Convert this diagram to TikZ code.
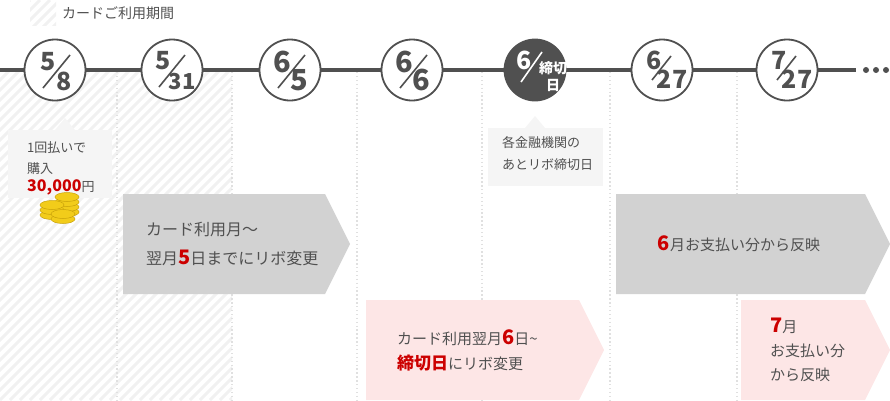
\documentclass[tikz,border=0pt]{standalone}
\usepackage{fontspec}
\setmainfont{Noto Sans CJK JP}
\usetikzlibrary{calc}
\definecolor{dk}{HTML}{505050}
\definecolor{rd}{HTML}{CC0000}
\definecolor{gb}{HTML}{D2D2D2}
\definecolor{pk}{HTML}{FDE6E6}
\definecolor{cb}{HTML}{F5F5F5}
\definecolor{gold}{HTML}{F2CC1A}
\definecolor{goldd}{HTML}{C9A20A}
\definecolor{hatch}{HTML}{F1F1F1}
\begin{document}
\begin{tikzpicture}[x=1pt,y=-1pt,
  datec/.style={circle,draw=dk,line width=1.8pt,fill=white,minimum size=61pt,inner sep=0pt},
  num/.style={font=\fontsize{25}{25}\selectfont\bfseries,text=dk,inner sep=0pt},
  big/.style={font=\fontsize{29}{29}\selectfont\bfseries,text=dk,inner sep=0pt},
  txt/.style={font=\fontsize{16}{22}\selectfont,text=dk,align=left,inner sep=0pt},
  sl/.style={dk,line width=1.6pt},
  hl/.style={hatch,line width=3pt},
  dots/.style={draw=black!12,line width=1.4pt,dash pattern=on 1.4pt off 2.5pt}]
\useasboundingbox (0,0) rectangle (890,400);
% hatched period
\begin{scope}
\clip (0,70) rectangle (232,400);
\foreach \k in {0,10,...,600} \draw[hl] (\k-340,400) -- (\k,60);
\end{scope}
\begin{scope}
\clip (30,0) rectangle (56,25);
\foreach \k in {0,10,...,80} \draw[hl] (\k-30,30) -- (\k,0);
\end{scope}
\node[txt,anchor=west,font=\fontsize{14}{16}\selectfont] (leg) at (62,13) {カードご利用期間};
% dotted lines
\foreach \x in {117,232,357,482,610,737} \draw[dots] (\x,72) -- (\x,400);
% timeline
\coordinate (L) at (0,70); \coordinate (R) at (856,70);
\draw[dk,line width=3.5pt] (L) -- (R);
\foreach \x in {866,876,886} \fill[dk] (\x,70) circle (3pt);
% circles
\node[datec] (c1) at (55,70) {};
\draw[sl] ($(c1)+(15,-15)$) -- ($(c1)+(-12,18)$);
\node[num] at ($(c1)+(-7,-8)$) {5};
\node[num] at ($(c1)+(9,11)$) {8};
\node[datec] (c2) at (172,70) {};
\draw[sl] ($(c2)+(13,-15)$) -- ($(c2)+(-13,17)$);
\node[num] at ($(c2)+(-9,-9)$) {5};
\node[num,font=\fontsize{22}{22}\selectfont\bfseries] at ($(c2)+(10,12)$) {31};
\node[datec] (c3) at (290,70) {};
\draw[sl] ($(c3)+(15,-15)$) -- ($(c3)+(-12,18)$);
\node[big] at ($(c3)+(-8,-8)$) {6};
\node[big] at ($(c3)+(9,10)$) {5};
\node[datec] (c4) at (412,70) {};
\draw[sl] ($(c4)+(15,-15)$) -- ($(c4)+(-12,18)$);
\node[big] at ($(c4)+(-8,-8)$) {6};
\node[big] at ($(c4)+(9,10)$) {6};
\node[datec,fill=dk] (c5) at (535,70) {};
\draw[white,line width=1.6pt] ($(c5)+(7,-18)$) -- ($(c5)+(-14,12)$);
\node[num,text=white] at ($(c5)+(-11,-10)$) {6};
\node[inner sep=0pt,text=white,font=\fontsize{14}{17}\selectfont\bfseries,align=center] at ($(c5)+(18,7)$) {締切\\日};
\node[datec] (c6) at (662,70) {};
\draw[sl] ($(c6)+(9,-14)$) -- ($(c6)+(-10,10)$);
\node[num] at ($(c6)+(-8,-10)$) {6};
\node[num] at ($(c6)+(10,9)$) {27};
\node[datec] (c7) at (787,70) {};
\draw[sl] ($(c7)+(9,-14)$) -- ($(c7)+(-10,10)$);
\node[num] at ($(c7)+(-8,-10)$) {7};
\node[num] at ($(c7)+(10,9)$) {27};
% callout 1
\fill[cb] (8,130) rectangle (112,198);
\fill[cb] (55,130) -- (65,118) -- (75,130) -- cycle;
\node[txt,anchor=north west,font=\fontsize{13}{21}\selectfont] (t1) at (27,141) {1回払いで\\購入\\[-3pt]{\fontsize{16}{16}\selectfont\bfseries\color{rd}30,000}円};
% coins
\foreach \cx/\cy in {67/212,67/207,67/202,67/197,52/215,52/210,52/205,63/219,63/214}
  {\fill[gold,draw=goldd,line width=.5pt] (\cx,\cy) ellipse [x radius=12pt,y radius=4.5pt];}
% callout 2
\fill[cb] (488,128) rectangle (603,186);
\fill[cb] (525,128) -- (535,116) -- (545,128) -- cycle;
\node[txt,anchor=north west,font=\fontsize{13}{22}\selectfont] (t2) at (502,136) {各金融機関の\\あとリボ締切日};
% arrows
\fill[gb] (123,194) -- (325,194) -- (350,244) -- (325,294) -- (123,294) -- cycle;
\node[txt,anchor=west,font=\fontsize{16}{29}\selectfont] (a1) at (146,244) {カード利用月～\\翌月{\fontsize{20}{20}\selectfont\bfseries\color{rd}5}日までにリボ変更};
\fill[gb] (616,194) -- (865,194) -- (890,244) -- (865,294) -- (616,294) -- cycle;
\node[txt,anchor=center,font=\fontsize{15}{18}\selectfont] (a2) at (739,244) {{\fontsize{20}{20}\selectfont\bfseries\color{rd}6}月お支払い分から反映};
\fill[pk] (366,300) -- (579,300) -- (604,350) -- (579,400) -- (366,400) -- cycle;
\node[txt,anchor=west,font=\fontsize{15}{25}\selectfont] (a3) at (397,350) {カード利用翌月{\fontsize{20}{20}\selectfont\bfseries\color{rd}6}日\textasciitilde\\{\fontsize{17}{17}\selectfont\bfseries\color{rd}締切日}にリボ変更};
\fill[pk] (741,300) -- (865,300) -- (890,350) -- (865,400) -- (741,400) -- cycle;
\node[txt,anchor=west,font=\fontsize{15}{24}\selectfont] (a4) at (770,350) {{\fontsize{20}{20}\selectfont\bfseries\color{rd}7}月\\お支払い分\\から反映};
\end{tikzpicture}
\end{document}
